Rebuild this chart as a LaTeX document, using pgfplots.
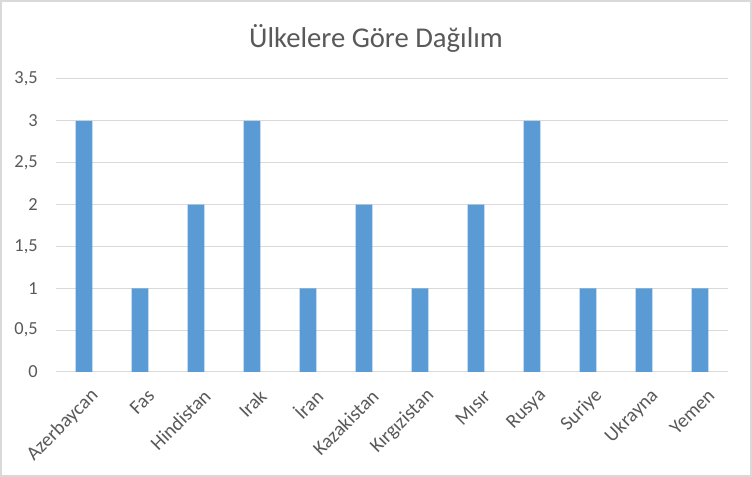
\documentclass[border=0pt]{standalone}
\usepackage{fontspec}
\setmainfont{Carlito}
\usepackage{pgfplots}
\pgfplotsset{compat=1.18}
\definecolor{barblue}{HTML}{5B9BD5}
\definecolor{gridgrey}{HTML}{D9D9D9}
\definecolor{txtgrey}{HTML}{595959}
\definecolor{framegrey}{HTML}{D9D9D9}
\begin{document}
\begin{tikzpicture}[x=1pt,y=1pt]
\useasboundingbox (-42,-78.75) rectangle (522,279);
\fill[white] (-42,-78.75) rectangle (522,279);
\draw[framegrey, line width=1.2pt] (-41.4,-78.15) rectangle (521.4,278.4);
\begin{axis}[
  at={(0,0)}, anchor=south west,
  scale only axis,
  width=504pt, height=219.75pt,
  xmin=-0.5, xmax=11.5,
  ymin=0, ymax=3.5,
  ytick={0,0.5,1,1.5,2,2.5,3,3.5},
  yticklabels={0,{0,5},1,{1,5},2,{2,5},3,{3,5}},
  xtick={0,...,11},
  xticklabels={Azerbaycan,Fas,Hindistan,Irak,İran,Kazakistan,Kırgızistan,Mısır,Rusya,Suriye,Ukrayna,Yemen},
  xticklabel style={rotate=45, anchor=east, font=\fontsize{14.8}{17}\selectfont, text=txtgrey, inner sep=0pt, yshift=-17pt, xshift=-5pt},
  yticklabel style={font=\fontsize{13.8}{16}\selectfont, text=txtgrey, anchor=east, inner sep=0pt, xshift=-13.5pt},
  ymajorgrids, grid style={gridgrey, line width=0.75pt},
  axis line style={draw=none},
  major tick length=0pt,
  tick style={draw=none},
  ybar, bar width=0.3,
  clip=false,
]
\draw[gridgrey, line width=0.75pt] (axis cs:-0.5,0) -- (axis cs:11.5,0);
\addplot[fill=barblue, draw=none] coordinates {
(0,3) (1,1) (2,2) (3,3) (4,1) (5,2) (6,1) (7,2) (8,3) (9,1) (10,1) (11,1)};
\end{axis}
\node[text=txtgrey, font=\fontsize{21.5}{25}\selectfont] at (240,250.5) {Ülkelere Göre Dağılım};
\end{tikzpicture}
\end{document}
